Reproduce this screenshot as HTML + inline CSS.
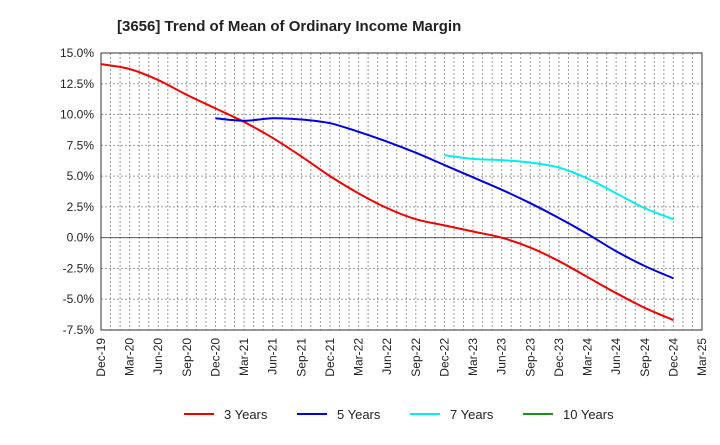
<!DOCTYPE html>
<html><head><meta charset="utf-8"><style>
body{margin:0;background:#fff;font-family:"Liberation Sans",sans-serif}
svg text{font-family:"Liberation Sans",sans-serif}
</style></head><body>
<svg id="chart" width="720" height="440">
<text x="117" y="31" font-size="15" font-weight="bold" fill="#222">[3656]  Trend of Mean of Ordinary Income Margin</text>
<g id="grid"></g><g id="axes"></g><g id="series"></g><g id="legend"></g>
</svg>
<script>
const categories=["Dec-19","Mar-20","Jun-20","Sep-20","Dec-20","Mar-21","Jun-21","Sep-21","Dec-21","Mar-22","Jun-22","Sep-22","Dec-22","Mar-23","Jun-23","Sep-23","Dec-23","Mar-24","Jun-24","Sep-24","Dec-24","Mar-25"];
const yTicks=[15,12.5,10,7.5,5,2.5,0,-2.5,-5,-7.5];
const y3=[14.1,13.7,12.8,11.6,10.5,9.4,8.1,6.6,5.0,3.6,2.4,1.5,1.0,0.5,0.0,-0.8,-1.9,-3.2,-4.5,-5.7,-6.7];
const y5=[null,null,null,null,9.7,9.5,9.7,9.6,9.3,8.6,7.8,6.9,5.9,4.9,3.9,2.8,1.6,0.3,-1.1,-2.3,-3.3];
const y7=[null,null,null,null,null,null,null,null,null,null,null,null,6.7,6.4,6.3,6.1,5.7,4.8,3.6,2.4,1.5];
const y10=[];
const L=101,R=702,T=53,B=330,yMin=-7.5,yMax=15;
const ns="http://www.w3.org/2000/svg";
const X=i=>L+(R-L)*i/(categories.length-1);
const Y=v=>T+(yMax-v)/(yMax-yMin)*(B-T);
function mk(tag,attrs,parent){const e=document.createElementNS(ns,tag);for(const k in attrs)e.setAttribute(k,attrs[k]);document.getElementById(parent).appendChild(e);return e;}
for(let m=1;m<(categories.length-1)*3;m++){const x=L+(R-L)*m/((categories.length-1)*3);
const g=mk('line',{x1:x,x2:x,y1:T,y2:B,stroke:'#999','stroke-dasharray':'2,2','stroke-width':1},'grid');

}
yTicks.forEach(v=>{const y=Y(v);
const g=mk('line',{x1:L,x2:R,y1:y,y2:y,stroke:v===0?'#555':'#999','stroke-dasharray':v===0?'':'2,2','stroke-width':1},'grid');


const t=mk('text',{x:L-7,y:y+4,'text-anchor':'end','font-size':12,fill:'#222'},'axes');t.textContent=v.toFixed(1)+'%';

});
categories.forEach((c,i)=>{const x=X(i);
const t=mk('text',{transform:`translate(${x+4},338) rotate(-90)`,'text-anchor':'end','font-size':12,fill:'#222'},'axes');t.textContent=c;

});
const fr=mk('rect',{x:L,y:T,width:R-L,height:B-T,fill:'none',stroke:'#333','stroke-width':1},'axes');


function path(arr){const p=[];arr.forEach((v,i)=>{if(v!=null)p.push([X(i),Y(v)]);});if(p.length<2)return '';
let d=`M${p[0][0]},${p[0][1]}`;for(let i=0;i<p.length-1;i++){const p0=p[i-1]||p[i],p1=p[i],p2=p[i+1],p3=p[i+2]||p2;
d+=` C${p1[0]+(p2[0]-p0[0])/6},${p1[1]+(p2[1]-p0[1])/6} ${p2[0]-(p3[0]-p1[0])/6},${p2[1]-(p3[1]-p1[1])/6} ${p2[0]},${p2[1]}`;}return d;}
const series=[["3 Years",y3,"#ee0000"],["5 Years",y5,"#0000dd"],["7 Years",y7,"#00eeee"],["10 Years",y10,"#228b22"]];
series.forEach((s,k)=>{const d=path(s[1]);if(d){const e=mk('path',{d,fill:'none',stroke:s[2],'stroke-width':2},'series');

}
const lx=184+k*113;
const ll=mk('line',{x1:lx,x2:lx+30,y1:414,y2:414,stroke:s[2],'stroke-width':2},'legend');


const lt=mk('text',{x:lx+40,y:419,'font-size':13,fill:'#222'},'legend');lt.textContent=s[0];

});
</script>
</body></html>
